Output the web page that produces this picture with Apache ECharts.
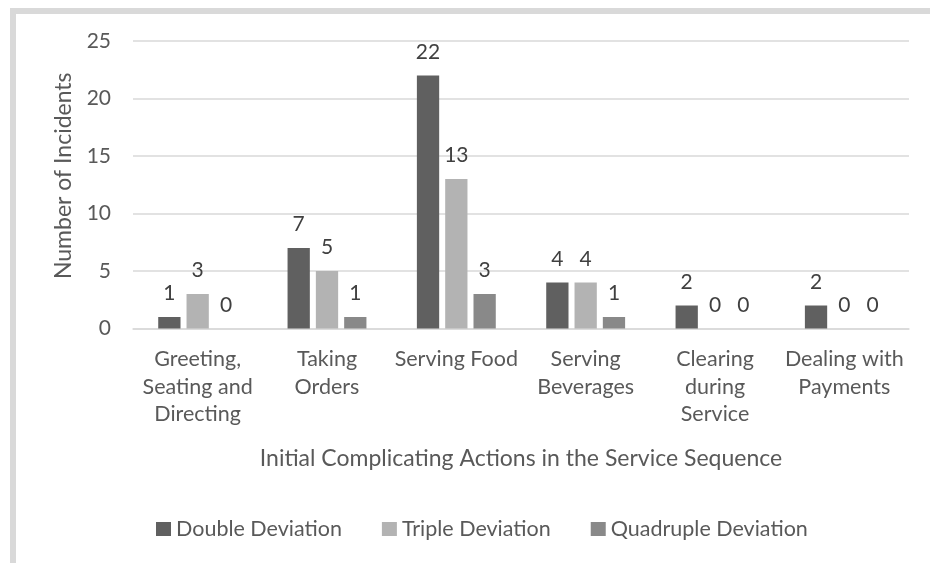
<!DOCTYPE html>
<html>
<head>
<meta charset="utf-8">
<script src="https://cdn.jsdelivr.net/npm/echarts@6/dist/echarts.min.js"></script>
<style>
  html, body { margin: 0; padding: 0; background: #ffffff; }
  #chart { width: 930px; height: 563px; }
</style>
</head>
<body>
<div id="chart"></div>
<script>
// Service-sequence categories and incident counts per deviation type
const categories = [
  'Greeting,\nSeating and\nDirecting',
  'Taking\nOrders',
  'Serving Food',
  'Serving\nBeverages',
  'Clearing\nduring\nService',
  'Dealing with\nPayments'
];
const seriesNames = ['Double Deviation', 'Triple Deviation', 'Quadruple Deviation'];
const doubleDeviation = [1, 7, 22, 4, 2, 2];
const tripleDeviation = [3, 5, 13, 4, 0, 0];
const quadrupleDeviation = [0, 1, 3, 1, 0, 0];
const yTicks = [0, 5, 10, 15, 20, 25];

const colors = ['#606060', '#b3b3b3', '#898989'];
const FONT = 'Lato, "Open Sans", sans-serif';
const TEXT = '#595959';

const chart = echarts.init(document.getElementById('chart'), null, { renderer: 'canvas' });

function barSeries(name, values, color) {
  return {
    name: name,
    type: 'bar',
    data: values,
    barGap: '27%',
    barCategoryGap: '39%',
    itemStyle: { color: color },
    label: {
      show: true,
      position: 'top',
      distance: 13,
      color: '#404040',
      fontFamily: FONT,
      fontSize: 21
    }
  };
}

chart.setOption({
  animation: false,
  backgroundColor: '#ffffff',
  color: colors,
  graphic: [
    // frame of the chart area (top and left edges)
    { type: 'rect', shape: { x: 10, y: 8, width: 920, height: 6 }, style: { fill: '#d9d9d9' }, silent: true },
    { type: 'rect', shape: { x: 10, y: 8, width: 6, height: 555 }, style: { fill: '#d9d9d9' }, silent: true }
  ],
  grid: { left: 133, right: 21, top: 41, bottom: 234.5 },
  legend: {
    data: seriesNames,
    top: 513,
    left: 151,
    itemWidth: 15,
    itemHeight: 14,
    itemGap: 40,
    icon: 'rect',
    textStyle: { color: TEXT, fontFamily: FONT, fontSize: 21.5 }
  },
  xAxis: {
    type: 'category',
    data: categories,
    name: 'Initial Complicating Actions in the Service Sequence',
    nameLocation: 'middle',
    nameGap: 130,
    nameTextStyle: { color: TEXT, fontFamily: FONT, fontSize: 23, verticalAlign: 'middle' },
    axisLine: { lineStyle: { color: '#d9d9d9', width: 1.5 } },
    axisTick: { show: false },
    axisLabel: {
      color: TEXT,
      fontFamily: FONT,
      fontSize: 21.5,
      lineHeight: 27.5,
      margin: 17,
      interval: 0
    }
  },
  yAxis: {
    type: 'value',
    min: yTicks[0],
    max: yTicks[yTicks.length - 1],
    interval: yTicks[1] - yTicks[0],
    name: 'Number of Incidents',
    nameLocation: 'middle',
    nameGap: 58,
    nameRotate: 90,
    nameTextStyle: { color: TEXT, fontFamily: FONT, fontSize: 23, padding: [0, 0, 0, 18] },
    axisLine: { show: false },
    axisTick: { show: false },
    axisLabel: { color: TEXT, fontFamily: FONT, fontSize: 21, margin: 22 },
    splitLine: { lineStyle: { color: '#d9d9d9', width: 1.5 } }
  },
  series: [
    barSeries(seriesNames[0], doubleDeviation, colors[0]),
    barSeries(seriesNames[1], tripleDeviation, colors[1]),
    barSeries(seriesNames[2], quadrupleDeviation, colors[2])
  ]
});
</script>
</body>
</html>
